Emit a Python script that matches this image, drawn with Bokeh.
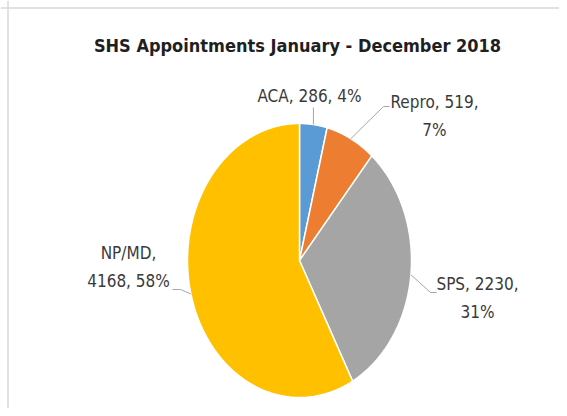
import numpy as np
from bokeh.plotting import figure
from bokeh.models import Range1d, Span
from bokeh.core.properties import value
from bokeh.embed import file_html
from bokeh.resources import INLINE

# ---- data ----
title_text = "SHS Appointments January - December 2018"
categories = ["ACA", "Repro", "SPS", "NP/MD"]
counts = [286, 519, 2230, 4168]
colors = ["#5B9BD5", "#ED7D31", "#A5A5A5", "#FFC000"]
first_line_parts = [3, 2, 2, 1]  # how many label parts go on the first line

# ---- layout (page pixel coordinates) ----
W, H = 559, 408
CX, CY, RX, RY = 299, 260, 112, 137
label_pos = [(309, 95), (434, 101), (477, 283), (128, 252)]
line_gap = 28
leader_ends = [
    [(None, 107)],
    [(383, 106), (389, 106)],
    [(430, 292), (436, 292)],
    [(180, 289), (172, 289)],
]
FONT = "DejaVu Sans Condensed"

p = figure(width=W, height=H, output_backend="svg", toolbar_location=None,
           x_range=Range1d(0, W), y_range=Range1d(H, 0),
           x_axis_type=None, y_axis_type=None, min_border=0)
p.grid.visible = False
p.outline_line_color = None
p.background_fill_color = "white"
p.border_fill_color = "white"

# frame border (top / left)
p.add_layout(Span(location=7.5, dimension="width", line_color="#D9D9D9", line_width=1.5))
p.add_layout(Span(location=7.5, dimension="height", line_color="#D9D9D9", line_width=1.5))

vals = np.array(counts, dtype=float)
total = vals.sum()
fracs = vals / total
ends = np.cumsum(fracs)
starts = ends - fracs

xs, ys = [], []
for s, e in zip(starts, ends):
    t = np.linspace(s, e, 120) * 2 * np.pi
    xs.append([CX] + list(CX + RX * np.sin(t)))
    ys.append([CY] + list(CY - RY * np.cos(t)))
p.patches(xs, ys, fill_color=colors, line_color="white", line_width=1.5)

# leader lines
for i, (s, e) in enumerate(zip(starts, ends)):
    m = (s + e) / 2 * 2 * np.pi
    px, py = CX + RX * np.sin(m), CY - RY * np.cos(m)
    lx, ly = [px], [py]
    for (ex, ey) in leader_ends[i]:
        lx.append(px if ex is None else ex)
        ly.append(ey)
    p.line(lx, ly, line_color="#A6A6A6", line_width=1)

# labels
tx, ty, tt = [], [], []
for i, cat in enumerate(categories):
    pct = int(round(fracs[i] * 100))
    parts = [cat, str(counts[i]), f"{pct}%"]
    k = first_line_parts[i]
    l1 = ", ".join(parts[:k]) + ("," if k < len(parts) else "")
    lines = [l1] + ([", ".join(parts[k:])] if k < len(parts) else [])
    x0, y0 = label_pos[i]
    for j, ln in enumerate(lines):
        tx.append(x0)
        ty.append(y0 + j * line_gap)
        tt.append(ln)
p.text(tx, ty, text=tt, text_font=value(FONT), text_font_size="17px",
       text_color="#3A3A3A", text_align="center", text_baseline="middle")

# title
p.text([297], [45], text=[title_text], text_font=value(FONT), text_font_size="18px",
       text_font_style="bold", text_color="#1F1F1F", text_align="center",
       text_baseline="middle")

open("out.html", "w").write(file_html(p, INLINE))
